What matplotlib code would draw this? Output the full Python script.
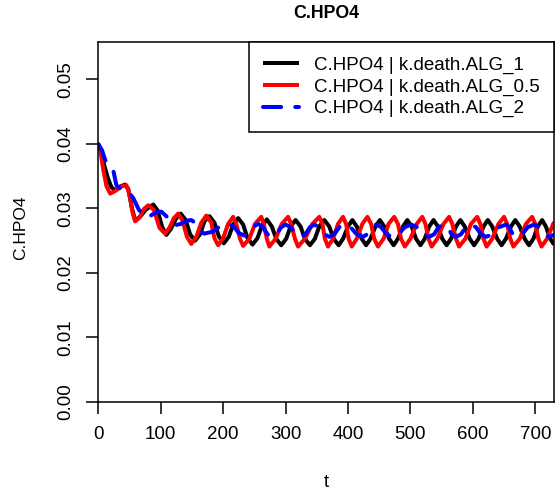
import matplotlib
matplotlib.use("Agg")
import matplotlib.pyplot as plt

plt.rcParams['font.family'] = ['Liberation Sans', 'DejaVu Sans']

# ---- data: (t, C.HPO4) ----
series_labels = ["C.HPO4 | k.death.ALG_1", "C.HPO4 | k.death.ALG_0.5", "C.HPO4 | k.death.ALG_2"]

black_points = [
    (0, .0398), (5, .0385), (10, .0365), (15, .0348), (21, .0333), (27, .0328), (35, .0334),
    (43, .0337), (48, .0330), (54, .0300), (59, .0282), (66, .0286), (76, .0298), (88, .0306),
    (95, .0297), (102, .0272), (109, .0259), (116, .0268), (125, .0285), (132, .0292),
    (140, .0282), (147, .0260), (155, .0250), (163, .0260), (170, .0280), (178, .0288),
    (186, .0278), (193, .0257), (201, .0246), (209, .0256), (216, .0275), (224, .0285),
    (232, .0275), (239, .0254), (247, .0244), (255, .0254), (262, .0273), (270, .0283),
    (278, .0272), (285, .0253), (293, .0243), (301, .0253), (308, .0272), (316, .0282),
    (324, .0272), (331, .0253), (339, .0243), (347, .0253), (354, .0272), (362, .0282),
    (370, .0272), (377, .0253), (385, .0243), (392, .0253), (400, .0272), (407, .0282),
    (414, .0272), (422, .0253), (429, .0243), (436, .0253), (444, .0272), (451, .0282),
    (458, .0272), (466, .0253), (473, .0243), (480, .0253), (488, .0272), (495, .0282),
    (502, .0272), (509, .0253), (516, .0243), (523, .0253), (530, .0272), (537, .0282),
    (544, .0272), (551, .0253), (558, .0243), (565, .0253), (573, .0272), (580, .0282),
    (587, .0272), (595, .0253), (602, .0243), (609, .0253), (617, .0272), (624, .0282),
    (631, .0272), (639, .0253), (646, .0243), (653, .0253), (661, .0272), (668, .0282),
    (675, .0272), (683, .0253), (690, .0243), (697, .0253), (704, .0272), (711, .0282),
    (717, .0272), (724, .0253), (730, .0244)]

red_points = [
    (0, .0400), (4, .0385), (8, .0360), (13, .0335), (19, .0323), (27, .0327), (37, .0334),
    (45, .0336), (50, .0322), (55, .0293), (59, .0280), (66, .0286), (73, .0299), (80, .0305),
    (89, .0298), (98, .0270), (107, .0261), (114, .0270), (121, .0285), (128, .0292),
    (135, .0281), (142, .0256), (149, .0245), (157, .0256), (165, .0278), (173, .0289),
    (181, .0278), (186, .0254), (192, .0243), (200, .0254), (208, .0276), (216, .0287),
    (221, .0276), (227, .0253), (232, .0242), (242, .0253), (251, .0276), (261, .0287),
    (265, .0276), (270, .0253), (274, .0241), (284, .0253), (294, .0276), (304, .0287),
    (309, .0276), (315, .0253), (320, .0241), (331, .0253), (343, .0276), (354, .0287),
    (359, .0276), (363, .0253), (368, .0241), (376, .0253), (384, .0276), (392, .0287),
    (397, .0276), (401, .0253), (406, .0241), (414, .0253), (423, .0276), (431, .0287),
    (437, .0276), (442, .0253), (448, .0241), (457, .0253), (465, .0276), (474, .0287),
    (480, .0276), (485, .0253), (491, .0241), (500, .0253), (510, .0276), (519, .0287),
    (524, .0276), (529, .0253), (534, .0241), (543, .0253), (553, .0276), (562, .0287),
    (567, .0276), (573, .0253), (578, .0241), (588, .0253), (597, .0276), (607, .0287),
    (612, .0276), (617, .0253), (622, .0241), (631, .0253), (641, .0276), (650, .0287),
    (655, .0276), (660, .0253), (665, .0241), (675, .0253), (685, .0276), (695, .0287),
    (700, .0276), (705, .0253), (710, .0241), (719, .0253), (730, .0279)]

blue_points = [
    (0, .0400), (6, .0390), (11, .0375), (18, .0366), (24, .0359), (29, .0336), (38, .0328),
    (48, .0326), (56, .0316), (65, .0298), (75, .0287), (84, .0289), (93, .0294), (101, .0295),
    (109, .0288), (116, .0278), (123, .0274), (132, .0276), (141, .0281), (149, .0282),
    (156, .0277), (163, .0265), (170, .0261), (183, .0264), (196, .0273), (208, .0276),
    (217, .0272), (225, .0262), (234, .0258), (241, .0262), (249, .0272), (256, .0276),
    (263, .0272), (271, .0260), (278, .0256), (285, .0260), (293, .0271), (300, .0275),
    (308, .0271), (317, .0260), (325, .0256), (332, .0260), (339, .0271), (346, .0275),
    (354, .0271), (362, .0260), (370, .0256), (378, .0260), (386, .0271), (394, .0275),
    (404, .0271), (414, .0260), (424, .0256), (431, .0260), (438, .0271), (445, .0275),
    (453, .0271), (462, .0260), (470, .0256), (480, .0260), (491, .0271), (501, .0275),
    (511, .0271), (520, .0260), (530, .0256), (538, .0260), (545, .0271), (553, .0275),
    (560, .0271), (566, .0260), (573, .0256), (581, .0260), (589, .0271), (597, .0275),
    (605, .0271), (613, .0260), (621, .0256), (632, .0260), (642, .0271), (653, .0275),
    (658, .0271), (664, .0260), (669, .0256), (679, .0260), (688, .0271), (698, .0275),
    (706, .0271), (714, .0260), (722, .0256), (730, .0259)]

x_ticks = [0, 100, 200, 300, 400, 500, 600, 700]
y_ticks = [0.00, 0.01, 0.02, 0.03, 0.04, 0.05]
y_tick_labels = ["0.00", "0.01", "0.02", "0.03", "0.04", "0.05"]

W, H = 557, 491
fig = plt.figure(figsize=(W / 100, H / 100), dpi=100)
ax = fig.add_axes([98.3 / W, 1 - 402 / H, (554 - 98.3) / W, (402 - 42) / H])

fs = 13.5
t, v = zip(*black_points)
ax.plot(t, v, color='black', lw=2.9, solid_joinstyle='round', solid_capstyle='butt',
        label=series_labels[0])
t, v = zip(*red_points)
ax.plot(t, v, color='#FF0000', lw=2.9, solid_joinstyle='round', solid_capstyle='butt',
        label=series_labels[1])
t, v = zip(*blue_points)
ax.plot(t, v, color='#0000FF', lw=2.9, dashes=(4.5, 3.5), dash_capstyle='round',
        label=series_labels[2])

ax.set_xlim(0, 730)
ax.set_ylim(0, 0.0558)
ax.set_xticks(x_ticks)
ax.set_xticklabels([str(x) for x in x_ticks], fontsize=fs)
ax.set_yticks(y_ticks)
ax.set_yticklabels(y_tick_labels, fontsize=fs, rotation=90, va='center')
ax.tick_params(length=8.6, width=1.1, pad=9, direction='out')
for s in ax.spines.values():
    s.set_linewidth(1.1)

ax.set_xlabel('t', fontsize=fs, labelpad=22)
fig.text(21 / W, 1 - 228 / H, 'C.HPO4', fontsize=12.5, rotation=90, ha='center', va='center')
fig.text(326 / W, 1 - 13 / H, 'C.HPO4', fontsize=12.8, fontweight='bold', ha='center', va='center')

leg = ax.legend(loc='upper right', bbox_to_anchor=(1, 1), borderaxespad=0, fontsize=fs,
                fancybox=False, edgecolor='black', framealpha=1, handlelength=1.9,
                handletextpad=0.8, borderpad=0.77, labelspacing=0.24)
leg.get_frame().set_linewidth(1.1)

fig.savefig('out.png', dpi=100)
